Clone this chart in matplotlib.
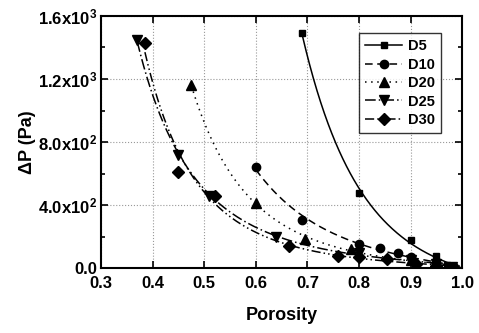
import numpy as np
import matplotlib
matplotlib.use("Agg")
import matplotlib.pyplot as plt
from matplotlib.ticker import MultipleLocator

plt.rcParams['font.family'] = ['Liberation Sans', 'DejaVu Sans']
plt.rcParams['font.weight'] = 'bold'
plt.rcParams['mathtext.fontset'] = 'custom'
plt.rcParams['mathtext.rm'] = 'Liberation Sans:bold'
plt.rcParams['mathtext.bf'] = 'Liberation Sans:bold'
plt.rcParams['mathtext.default'] = 'bf'

series_names = ["D5", "D10", "D20", "D25", "D30"]
d5_x = [0.69, 0.80, 0.90, 0.95, 0.97, 0.985]
d5_y = [1490, 475, 175, 75, 20, 5]
d10_x = [0.60, 0.69, 0.80, 0.84, 0.875, 0.90, 0.95, 0.98]
d10_y = [640, 305, 150, 125, 95, 70, 30, 8]
d20_x = [0.475, 0.60, 0.695, 0.785, 0.90, 0.95, 0.98]
d20_y = [1160, 410, 185, 120, 50, 25, 5]
d25_x = [0.37, 0.45, 0.51, 0.64, 0.80, 0.90, 0.95, 0.98]
d25_y = [1450, 720, 460, 195, 95, 50, 25, 5]
d30_x = [0.385, 0.45, 0.52, 0.665, 0.76, 0.80, 0.855, 0.91, 0.95, 0.98]
d30_y = [1430, 610, 460, 140, 75, 70, 55, 25, 15, 3]

xs = [d5_x, d10_x, d20_x, d25_x, d30_x]
ys = [d5_y, d10_y, d20_y, d25_y, d30_y]
markers = ['s', 'o', '^', 'v', 'D']
msizes = [5, 6, 7, 7, 6]
linestyles = ['-', (0, (5, 3)), (0, (1, 3)), (0, (7, 2, 1, 2)), (0, (6, 2, 1, 2, 1, 2))]

ytick_vals = [0, 400, 800, 1200, 1600]
ytick_labels = ["0.0", r"4.0x10$^2$", r"8.0x10$^2$", r"1.2x10$^3$", r"1.6x10$^3$"]
xtick_vals = [0.3, 0.4, 0.5, 0.6, 0.7, 0.8, 0.9, 1.0]

fig = plt.figure(figsize=(4.79, 3.33), dpi=100)
ax = fig.add_axes([0.211, 0.195, 0.754, 0.757])

for name, x, y, m, ms, ls in zip(series_names, xs, ys, markers, msizes, linestyles):
    x = np.asarray(x, float)
    y = np.asarray(y, float)
    # weighted fit: log y = logA + p log(1-x) + q log x
    mask = y > 10
    w = np.sqrt(y[mask])
    M = np.column_stack([np.ones(mask.sum()), np.log(1 - x[mask]), np.log(x[mask])])
    coef, *_ = np.linalg.lstsq(M * w[:, None], np.log(y[mask]) * w, rcond=None)
    xf = np.linspace(x.min(), 0.995, 300)
    yf = np.exp(coef[0]) * (1 - xf) ** coef[1] * xf ** coef[2]
    ax.plot(xf, yf, color='black', linestyle=ls, linewidth=1.1)
    ax.plot(x, y, linestyle='none', marker=m, markersize=ms, color='black')
    ax.plot([], [], color='black', linestyle=ls, marker=m, markersize=ms, linewidth=1.1, label=name)

ax.set_xlim(0.3, 1.0)
ax.set_ylim(0, 1600)
ax.set_xticks(xtick_vals)
ax.set_xticklabels([f"{v:.1f}" for v in xtick_vals])
ax.set_yticks(ytick_vals)
ax.set_yticklabels(ytick_labels)
ax.yaxis.set_minor_locator(MultipleLocator(200))
ax.tick_params(axis='both', which='both', direction='in', top=True, right=True, labelsize=12, width=1.2)
ax.tick_params(axis='both', which='major', length=5)
ax.tick_params(axis='y', which='major', pad=3)
ax.tick_params(axis='x', which='major', pad=6)
ax.tick_params(axis='both', which='minor', length=3)
ax.grid(True, which='major', linestyle=':', color='#999999', linewidth=0.8)
for s in ax.spines.values():
    s.set_linewidth(1.5)

ax.set_xlabel("Porosity", fontsize=13, fontweight='bold', labelpad=11)
ax.set_ylabel("ΔP (Pa)", fontsize=13, fontweight='bold', labelpad=1)

leg = ax.legend(loc='upper right', bbox_to_anchor=(0.942, 0.933), borderaxespad=0, frameon=True,
                fancybox=False, edgecolor='black', fontsize=10.5, handlelength=2.5,
                handletextpad=0.4, labelspacing=0.3, borderpad=0.45)
leg.get_frame().set_linewidth(1.0)

fig.savefig("out.png", dpi=100)
